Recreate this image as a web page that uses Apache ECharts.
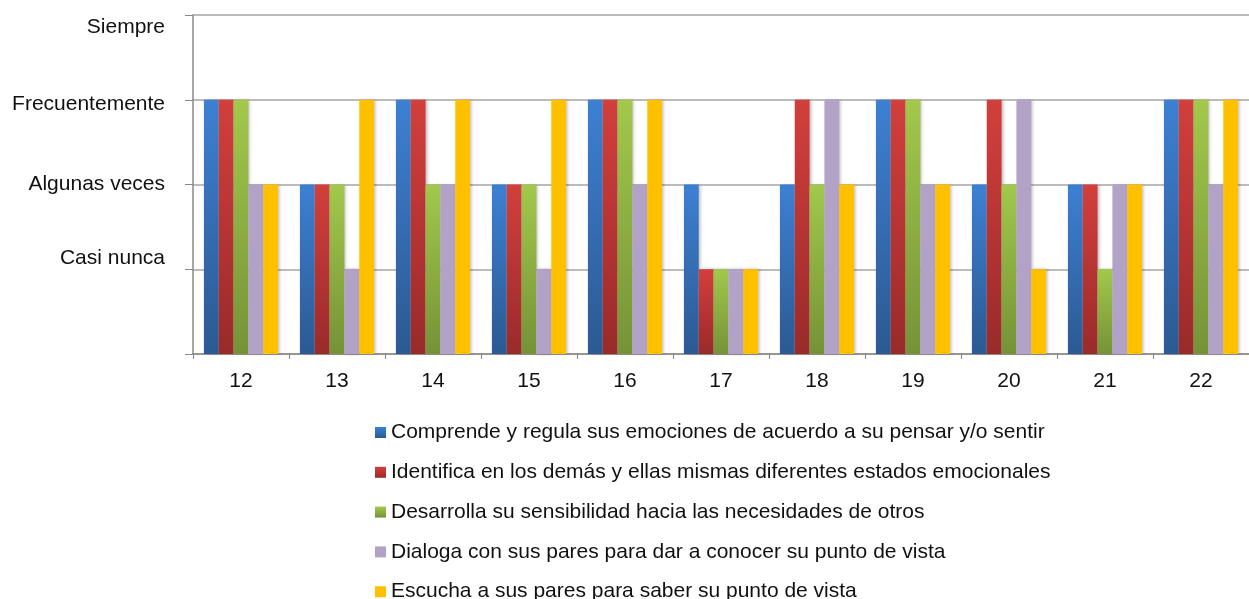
<!DOCTYPE html>
<html>
<head>
<meta charset="utf-8">
<script src="https://cdn.jsdelivr.net/npm/echarts@6/dist/echarts.min.js"></script>
<style>
    html, body { margin:0; padding:0; background:#fff; }
    #main { width:1249px; height:599px; }
</style>
</head>
<body>
<div id="main"></div>
<script>
// categories (ages / items) on x
const categories = ['12','13','14','15','16','17','18','19','20','21','22'];
// y levels 0..4
const levelLabels = ['', 'Casi nunca', 'Algunas veces', 'Frecuentemente', 'Siempre'];

const seriesNames = [
    'Comprende y regula sus emociones de acuerdo a su pensar y/o sentir',
    'Identifica en los demás y ellas mismas diferentes estados emocionales',
    'Desarrolla su sensibilidad hacia las necesidades de otros',
    'Dialoga con sus pares para dar a conocer su punto de vista',
    'Escucha a sus pares para saber su punto de vista'
];
const comprende = [3,2,3,2,3,2,2,3,2,2,3];
const identifica = [3,2,3,2,3,1,3,3,3,2,3];
const desarrolla = [3,2,2,2,3,1,2,3,2,1,3];
const dialoga = [2,1,2,1,2,1,3,2,3,2,2];
const escucha = [2,3,3,3,3,1,2,2,1,2,3];

function grad(top, bottom){
    return {
        type:'linear', x:0, y:0, x2:0, y2:1,
        colorStops:[{ offset:0, color:top }, { offset:1, color:bottom }]
    };
}
const colors = [
    grad('#3d80d3', '#2c5992'),
    grad('#d23f3c', '#9a2a2a'),
    grad('#a2c84c', '#769238'),
    '#b3a2c7',
    '#ffc000'
];
const values = [comprende, identifica, desarrolla, dialoga, escucha];

// small offsets so labels sit like in the original
const labelShift = { 1:[0,0,22,0], 2:[0,0,0,0], 3:[8,0,0,0], 4:[24,0,0,0] };
const FS = 21;

let myChart = echarts.init(document.getElementById('main'));
let option = {
    animation:false,
    textStyle:{ fontFamily:'"Liberation Sans", Arial, sans-serif' },
    grid:{ left:193, right:-11, top:15, bottom:245 },
    legend:{
        orient:'vertical',
        left:370,
        top:417,
        height:200,
        icon:'rect',
        itemWidth:11,
        itemHeight:11,
        itemGap:18.8,
        itemStyle:{ shadowBlur:0 },
        textStyle:{ fontSize:FS, color:'#111', lineHeight:21 },
        selectedMode:false,
        data:seriesNames
    },
    xAxis:{
        type:'category',
        data:categories,
        axisLine:{ lineStyle:{ color:'#888', width:1.5 } },
        axisTick:{ show:true, length:5, lineStyle:{ color:'#888' } },
        axisLabel:{ color:'#111', fontSize:FS, margin:17 },
        splitLine:{ show:false }
    },
    yAxis:{
        type:'value',
        min:0,
        max:4,
        interval:1,
        axisLine:{ show:true, lineStyle:{ color:'#888', width:1.5 } },
        axisTick:{ show:true, length:8, lineStyle:{ color:'#888' } },
        axisLabel:{
            color:'#111',
            fontSize:FS,
            margin:28,
            formatter:(v)=>levelLabels[v] ? `{l${v}|${levelLabels[v]}}` : '',
            rich:{
                l1:{ fontSize:FS, padding:labelShift[1] },
                l2:{ fontSize:FS, padding:labelShift[2] },
                l3:{ fontSize:FS, padding:labelShift[3] },
                l4:{ fontSize:FS, padding:labelShift[4] }
            }
        },
        splitLine:{ show:true, lineStyle:{ color:'#a6a6a6', width:1.5 } }
    },
    series:seriesNames.map((name, i)=>({
        type:'bar',
        name,
        data:values[i],
        barGap:'0%',
        barCategoryGap:'22.7%',
        itemStyle:{
            color:colors[i],
            shadowBlur:3,
            shadowOffsetX:2,
            shadowColor:'rgba(0,0,0,0.25)'
        }
    }))
};
myChart.setOption(option);
</script>
</body>
</html>
